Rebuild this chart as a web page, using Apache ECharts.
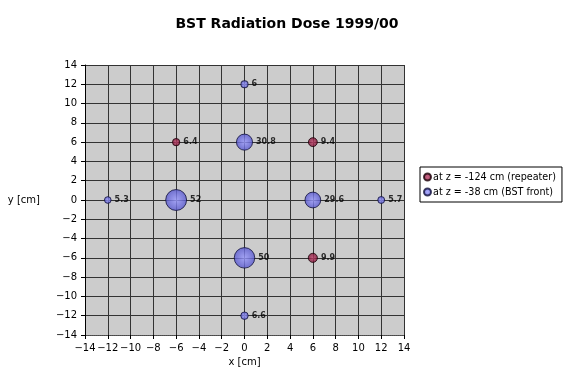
<!DOCTYPE html>
<html><head><meta charset="utf-8">
<script src="https://cdn.jsdelivr.net/npm/echarts@6/dist/echarts.min.js"></script>
<style>html,body{margin:0;padding:0;background:#fff}#c{width:566px;height:386px}</style>
</head><body><div id="c"></div>
<script>
var seriesNames = ['at z = -124 cm (repeater)', 'at z = -38 cm (BST front)'];
var repeaterX = [-6, 6, 6];
var repeaterY = [6, 6, -6];
var repeaterDose = [6.4, 9.4, 9.9];
var frontX = [0, 0, -12, -6, 6, 12, 0, 0];
var frontY = [12, 6, 0, 0, 0, 0, -6, -12];
var frontDose = [6, 30.8, 5.3, 52, 29.6, 5.7, 50, 6.6];
var axisTicks = [-14, -12, -10, -8, -6, -4, -2, 0, 2, 4, 6, 8, 10, 12, 14];

function pts(xs, ys, vs) { return xs.map(function (x, i) { return [x, ys[i], vs[i]]; }); }
function sz(v) { return 2.9 * Math.sqrt(v[2]); }
function grad(c1, c2) {
  return new echarts.graphic.RadialGradient(0.5, 0.5, 0.5, [{offset: 0, color: c1}, {offset: 1, color: c2}]);
}
var font = 'DejaVu Sans';
var chart = echarts.init(document.getElementById('c'));
var axisCommon = {
  type: 'value', min: axisTicks[0], max: axisTicks[axisTicks.length - 1], interval: 2,
  axisLabel: {color: '#000', fontFamily: font, fontSize: 10,
    formatter: function (v) { return String(v).replace('-', '\u2212'); }},
  axisTick: {show: true, length: 4, lineStyle: {color: '#000'}},
  splitLine: {show: true, lineStyle: {color: '#333', width: 1}},
  nameTextStyle: {color: '#000', fontFamily: font, fontSize: 10}
};
var lbl = {show: true, position: 'right', distance: 3, formatter: function (p) { return p.value[2]; },
  fontFamily: font, fontSize: 8, fontWeight: 'bold', color: '#000'};
chart.setOption({
  backgroundColor: '#fff',
  animation: false,
  title: {
    text: 'BST Radiation Dose 1999/00', left: 282, top: 12, textAlign: 'center',
    textStyle: {fontFamily: font, fontSize: 14, fontWeight: 'bold', color: '#000'}
  },
  legend: {
    orient: 'vertical', left: 420, top: 167, itemWidth: 7, itemHeight: 7, itemGap: 5,
    borderColor: '#000', borderWidth: 1, borderRadius: 0, padding: [5, 6, 5, 3],
    backgroundColor: '#fff',
    textStyle: {fontFamily: font, fontSize: 9.6, color: '#000', padding: [0, 0, 0, -3]},
    data: [{name: seriesNames[0], icon: 'circle'}, {name: seriesNames[1], icon: 'circle'}]
  },
  grid: {left: 85, right: 162, top: 65, bottom: 51, show: true, backgroundColor: '#cccccc', borderWidth: 0},
  xAxis: Object.assign({}, axisCommon, {
    name: 'x [cm]', nameLocation: 'middle', nameGap: 22,
    axisLine: {show: true, onZero: false, lineStyle: {color: '#555', type: 'dotted'}}
  }),
  yAxis: Object.assign({}, axisCommon, {
    name: 'y [cm]', nameLocation: 'middle', nameGap: 45, nameRotate: 0,
    axisLine: {show: true, onZero: false, lineStyle: {color: '#000', width: 1}}
  }),
  series: [
    {
      name: seriesNames[0], type: 'scatter', data: pts(repeaterX, repeaterY, repeaterDose),
      symbolSize: sz,
      itemStyle: {color: grad('#c0406a', '#7a1032'), borderColor: '#1a0008', borderWidth: 1},
      label: lbl
    },
    {
      name: seriesNames[1], type: 'scatter', data: pts(frontX, frontY, frontDose),
      symbolSize: sz,
      itemStyle: {color: grad('#9a9aff', '#5656cc'), borderColor: '#10103a', borderWidth: 1},
      label: lbl
    }
  ]
});
</script></body></html>
